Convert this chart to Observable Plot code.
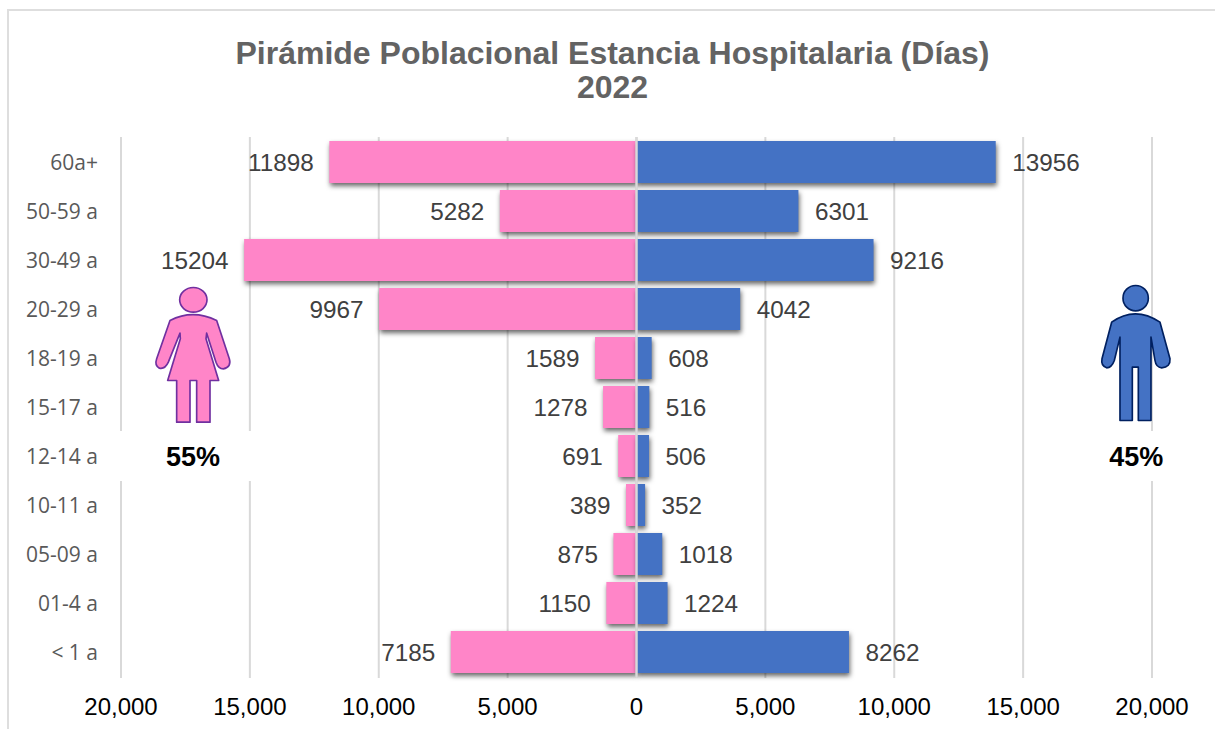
<!DOCTYPE html>
<html><head><meta charset="utf-8">
<script src="https://cdn.jsdelivr.net/npm/d3@7"></script>
<script src="https://cdn.jsdelivr.net/npm/@observablehq/plot@0.6"></script>
<style>
html,body{margin:0;padding:0;background:#fff;overflow:hidden}
#wrap{position:relative;width:1215px;height:729px}
#border{position:absolute;left:7px;top:9px;right:-4px;bottom:-4px;border:2px solid #dedede;box-sizing:border-box}
#wrap svg{position:absolute;left:0;top:0;background:transparent!important}
g[fill="#FF85C8"],g[fill="#4472C4"]{filter:drop-shadow(1px 3px 2.5px rgba(0,0,0,.6))}
</style></head><body><div id="wrap"><div id="border"></div></div>
<script>
const titleText = "Pirámide Poblacional Estancia Hospitalaria (Días)\n2022";
const ageGroups = ["60a+","50-59 a","30-49 a","20-29 a","18-19 a","15-17 a","12-14 a","10-11 a","05-09 a","01-4 a","< 1 a"];
const women = [11898,5282,15204,9967,1589,1278,691,389,875,1150,7185];
const men = [13956,6301,9216,4042,608,516,506,352,1018,1224,8262];
const xTicks = [-20000,-15000,-10000,-5000,0,5000,10000,15000,20000];
const shares = [{x:-17210,label:"55%"},{x:19390,label:"45%"}];

const rows = ageGroups.map((g,i)=>({g,w:-women[i],m:men[i],wv:String(women[i]),mv:String(men[i])}));
const svgUri = s => "data:image/svg+xml;charset=utf-8,"+encodeURIComponent(s);
const womanIcon = svgUri(`<svg xmlns="http://www.w3.org/2000/svg" viewBox="0 0 390 480"><g fill="#FF85C8" stroke="#7030A0" stroke-width="5" stroke-linejoin="round"><ellipse cx="190" cy="88" rx="41" ry="37"/><path d="M120 150Q188 115 260 150L298 265Q305 290 280 295Q265 295 258 275L230 188L228 205L266 330L240 330L240 455L200 455L200 330L180 330L180 455L140 455L140 330L113 330L151 205L150 188L115 275Q105 297 88 293Q73 285 80 265Z"/></g></svg>`);
const manIcon = svgUri(`<svg xmlns="http://www.w3.org/2000/svg" viewBox="0 0 390 480"><g fill="#4472C4" stroke="#002060" stroke-width="5" stroke-linejoin="round"><circle cx="167" cy="83" r="38"/><path d="M95 155Q165 105 240 155L270 265Q272 290 245 292Q228 290 225 270L213 200L213 450L175 450L175 290L157 290L157 450L120 450L120 200L103 270Q95 292 80 292Q62 285 66 265Z"/></g></svg>`);

const fmt = d3.format(",");
const plot = Plot.plot({
  width:1215,height:729,
  marginLeft:120.5,marginRight:63.5,marginTop:137,marginBottom:51,
  x:{domain:[-20000,20000],axis:null},
  y:{domain:ageGroups,axis:null,paddingInner:0.14,paddingOuter:0.07,align:0.5},
  style:{background:"transparent"},
  marks:[
    Plot.ruleX(xTicks,{stroke:"#d9d9d9",strokeWidth:2}),
    Plot.barX(shares,{x1:d=>d.x-3400,x2:d=>d.x+3400,y:()=>"12-14 a",fill:"white",insetTop:-4,insetBottom:-4}),
    Plot.image([{x:-17129,src:womanIcon},{x:19728,src:manIcon}],{x:"x",y:()=>"18-19 a",src:"src",width:130,height:160,dy:-8}),
    Plot.barX(rows,{x1:0,x2:"w",y:"g",fill:"#FF85C8"}),
    Plot.barX(rows,{x1:0,x2:"m",y:"g",fill:"#4472C4"}),
    Plot.ruleX([0],{stroke:"#d9d9d9",strokeWidth:2.5}),
    Plot.text(rows,{x:"w",y:"g",text:"wv",textAnchor:"end",dx:-16,dy:0.5,fontSize:24.3,fill:"#404040",fontFamily:"Liberation Sans"}),
    Plot.text(rows,{x:"m",y:"g",text:"mv",textAnchor:"start",dx:16,dy:0.5,fontSize:24.3,fill:"#404040",fontFamily:"Liberation Sans"}),
    Plot.text(ageGroups,{x:()=>-20000,y:d=>d,text:d=>d,textAnchor:"end",dx:-23,dy:0.5,fontSize:21,fill:"#595959",fontFamily:"Open Sans"}),
    Plot.text(shares,{x:"x",y:()=>"12-14 a",text:"label",dy:1,fontSize:27,fontWeight:"bold",fill:"#000",fontFamily:"Liberation Sans"}),
    Plot.axisX(xTicks,{tickSize:0,tickPadding:0,tickFormat:d=>fmt(Math.abs(d)),fontSize:24,fill:"#000",fontFamily:"Liberation Sans",anchor:"bottom",dy:19,label:null}),
    Plot.text([titleText],{frameAnchor:"top",text:d=>d,dx:-24,dy:-98,lineHeight:1.06,fontSize:32,fontWeight:"bold",fill:"#636363",fontFamily:"Liberation Sans",lineAnchor:"top"})
  ]
});
document.getElementById("wrap").appendChild(plot);
</script></body></html>
